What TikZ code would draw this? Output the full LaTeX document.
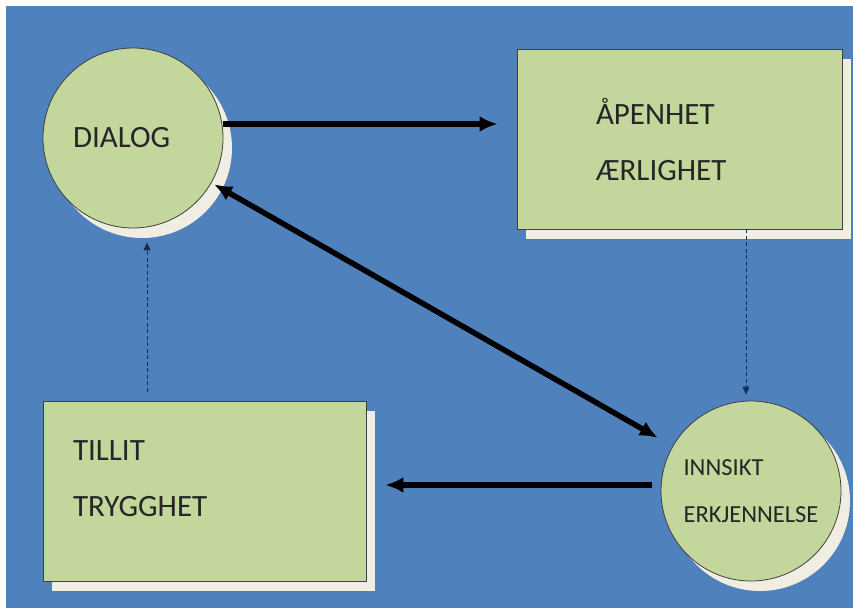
\documentclass[tikz,border=0pt]{standalone}
\usepackage{fontspec}
\setmainfont{Carlito}
\usetikzlibrary{arrows.meta, shadows, calc}
\definecolor{bakgrunn}{RGB}{79,129,189}
\definecolor{gronn}{RGB}{195,214,155}
\definecolor{skygge}{RGB}{240,237,227}
\definecolor{marine}{RGB}{25,45,90}

\begin{document}
\begin{tikzpicture}[
    x=1pt, y=-1pt,
    felt/.style={
        draw=black!75,
        line width=0.8pt,
        fill=gronn,
        text=black!85,
        drop shadow={shadow xshift=9pt, shadow yshift=-10pt, fill=skygge, opacity=1}
    },
    boks/.style={
        felt,
        rectangle,
        align=left,
        minimum height=180pt,
        font=\fontsize{31}{56}\selectfont
    },
    kreis/.style={
        felt,
        circle,
        minimum size=180pt,
        inner sep=2pt
    },
    pil/.style={
        -{Latex[length=18pt,width=16pt]},
        line width=5.5pt
    },
    dobbelpil/.style={
        {Latex[length=18pt,width=16pt]}-{Latex[length=18pt,width=16pt]},
        line width=5.5pt
    },
    stiplet/.style={
        -{Triangle[length=8pt,width=7pt]},
        draw=marine,
        line width=1pt,
        dash pattern=on 4pt off 2.5pt
    }
]

    \useasboundingbox (0,0) rectangle (853,608);
    \fill[white] (0,0) rectangle (853,608);
    \fill[bakgrunn] (6,6) rectangle (853,608);

    \node[kreis, text width=120pt, align=left, font=\fontsize{31}{40}\selectfont] (dialog) at (133,138) {DIALOG};
    \node[boks, text width=167pt, inner xsep=79pt] (apenhet) at (679.5,139) {ÅPENHET\\ÆRLIGHET};
    \node[boks, text width=263pt, inner xsep=30pt, text depth=80pt] (tillit) at (204.5,491) {TILLIT\\TRYGGHET};
    \node[kreis, align=left, font=\fontsize{24.5}{47}\selectfont] (innsikt) at (751,491) {INNSIKT\\ERKJENNELSE};

    \draw[pil, shorten >=19pt] ([yshift=14pt]dialog.east) -- ([yshift=15pt]apenhet.west);
    \draw[dobbelpil, shorten <=3pt, shorten >=17pt] (dialog) -- (innsikt);
    \draw[pil, shorten <=9pt, shorten >=19pt] ([yshift=6pt]innsikt.west) -- ([yshift=6pt]tillit.east);
    \draw[stiplet, shorten >=6pt] ($(innsikt.north |- apenhet.south)+(-5,0)$) -- ($(innsikt.north)+(-5,0)$);
    \draw[stiplet, shorten <=9pt, shorten >=14pt] ($(dialog.south |- tillit.north)+(14,0)$) -- ($(dialog.south)+(14,0)$);

\end{tikzpicture}
\end{document}
